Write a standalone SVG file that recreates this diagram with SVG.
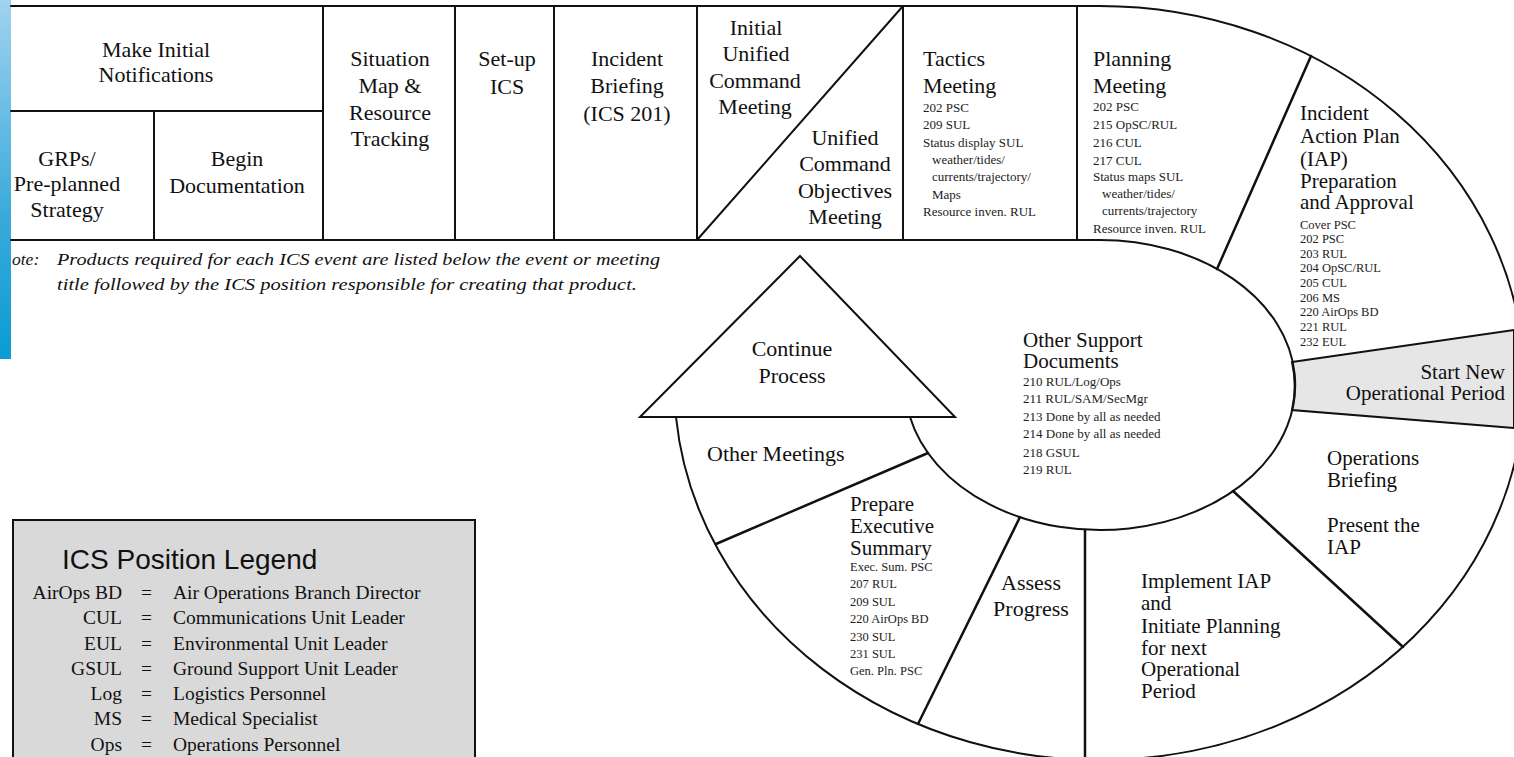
<svg xmlns="http://www.w3.org/2000/svg" width="1514" height="757" viewBox="0 0 1514 757">
<defs>
<linearGradient id="blue" x1="0" y1="0" x2="0" y2="1">
<stop offset="0" stop-color="#9fd3ee"/>
<stop offset="0.6" stop-color="#3aaadb"/>
<stop offset="1" stop-color="#0a9cd3"/>
</linearGradient>
<style>
.ln{fill:none;stroke:#111;stroke-width:2;stroke-linecap:round}
.rd{fill:none;stroke:#111;stroke-width:2.5;stroke-linecap:round}
text{font-family:"Liberation Serif","DejaVu Serif","Times New Roman",serif;fill:#111}
.h{font-size:22px}
.hc{font-size:22px;text-anchor:middle}
.ht{font-size:21px}
.s{font-size:13px;fill:#222}
.s2{font-size:12.5px;fill:#222}
.note{font-size:17.5px;font-style:italic}
.lg{font-size:19.5px}
.lgr{font-size:19.5px;text-anchor:end}
.title{font-family:"Liberation Sans",Arial,sans-serif;font-size:28px}
</style>
</defs>
<rect width="1514" height="757" fill="#ffffff"/>
<rect x="0" y="0" width="11" height="359" fill="url(#blue)"/>

<g id="frame">
<path class="ln" d="M11,6 H1099"/>
<path class="ln" d="M11,240 H1100"/>
<path class="ln" d="M11,111 H323"/>
<path class="ln" d="M154,111 V240"/>
<path class="ln" d="M323,6 V240 M455,6 V240 M554,6 V240 M697,6 V240 M903,6 V240 M1077,6 V240"/>
<path class="ln" d="M697,240 L903,6"/>
<path d="M1292,362 L1514,330 L1514,428 L1292,410 A195,145 0 0 0 1292,362 Z" fill="#e6e6e6" stroke="#111" stroke-width="2"/>
<path class="ln" d="M1099,6 A425,377 0 1 1 676,417"/>
<path class="ln" d="M1100,240 A195,145 0 1 1 910,417"/>
</g>

<g id="connectors">
<path class="rd" d="M1217,269 L1311,56"/>
<path class="rd" d="M1233,491 L1403,647"/>
<path class="rd" d="M1085,530 L1085,757"/>
<path class="rd" d="M1020,517 L918,724"/>
<path class="rd" d="M928,453 L716,544"/>
</g>

<g id="continue-process">
<polygon points="640,417 800,256 955,417" fill="#ffffff" stroke="#111" stroke-width="2"/>
<text class="hc" x="792" y="356">Continue</text>
<text class="hc" x="792" y="383">Process</text>
</g>

<g id="make-initial-notifications">
<text class="hc" x="156" y="57">Make Initial</text>
<text class="hc" x="156" y="82">Notifications</text>
</g>
<g id="grps">
<text class="hc" x="67" y="166">GRPs/</text>
<text class="hc" x="67" y="191">Pre-planned</text>
<text class="hc" x="67" y="217">Strategy</text>
</g>
<g id="begin-documentation">
<text class="hc" x="237" y="166">Begin</text>
<text class="hc" x="237" y="193">Documentation</text>
</g>
<g id="situation-map">
<text class="hc" x="390" y="66">Situation</text>
<text class="hc" x="390" y="93">Map &amp;</text>
<text class="hc" x="390" y="120">Resource</text>
<text class="hc" x="390" y="146">Tracking</text>
</g>
<g id="setup-ics">
<text class="hc" x="507" y="66">Set-up</text>
<text class="hc" x="507" y="94">ICS</text>
</g>
<g id="incident-briefing">
<text class="hc" x="627" y="66">Incident</text>
<text class="hc" x="627" y="93">Briefing</text>
<text class="hc" x="627" y="121">(ICS 201)</text>
</g>
<g id="initial-unified-command">
<text class="hc" x="756" y="35">Initial</text>
<text class="hc" x="756" y="61">Unified</text>
<text class="hc" x="755" y="88">Command</text>
<text class="hc" x="755" y="114">Meeting</text>
</g>
<g id="unified-command-objectives">
<text class="hc" x="845" y="145">Unified</text>
<text class="hc" x="845" y="171">Command</text>
<text class="hc" x="845" y="198">Objectives</text>
<text class="hc" x="845" y="224">Meeting</text>
</g>
<g id="tactics-meeting">
<text class="h" x="923" y="66">Tactics</text>
<text class="h" x="923" y="93">Meeting</text>
<text class="s" x="923" y="112">202 PSC</text>
<text class="s" x="923" y="129">209 SUL</text>
<text class="s" x="923" y="147">Status display SUL</text>
<text class="s" x="932" y="164">weather/tides/</text>
<text class="s" x="932" y="181">currents/trajectory/</text>
<text class="s" x="932" y="199">Maps</text>
<text class="s" x="923" y="216">Resource inven. RUL</text>
</g>
<g id="planning-meeting">
<text class="h" x="1093" y="66">Planning</text>
<text class="h" x="1093" y="93">Meeting</text>
<text class="s" x="1093" y="111">202 PSC</text>
<text class="s" x="1093" y="129">215 OpSC/RUL</text>
<text class="s" x="1093" y="147">216 CUL</text>
<text class="s" x="1093" y="165">217 CUL</text>
<text class="s" x="1093" y="181">Status maps SUL</text>
<text class="s" x="1102" y="198">weather/tides/</text>
<text class="s" x="1102" y="215">currents/trajectory</text>
<text class="s" x="1093" y="233">Resource inven. RUL</text>
</g>
<g id="iap-preparation">
<text class="ht" x="1300" y="120">Incident</text>
<text class="ht" x="1300" y="143">Action Plan</text>
<text class="ht" x="1300" y="166">(IAP)</text>
<text class="ht" x="1300" y="188">Preparation</text>
<text class="ht" x="1300" y="209">and Approval</text>
<text class="s2" x="1300" y="229">Cover PSC</text>
<text class="s2" x="1300" y="243">202 PSC</text>
<text class="s2" x="1300" y="258">203 RUL</text>
<text class="s2" x="1300" y="272">204 OpSC/RUL</text>
<text class="s2" x="1300" y="287">205 CUL</text>
<text class="s2" x="1300" y="302">206 MS</text>
<text class="s2" x="1300" y="316">220 AirOps BD</text>
<text class="s2" x="1300" y="331">221 RUL</text>
<text class="s2" x="1300" y="346">232 EUL</text>
</g>
<g id="start-new-period">
<text class="ht" x="1505" y="379" text-anchor="end">Start New</text>
<text class="ht" x="1505" y="400" text-anchor="end">Operational Period</text>
</g>
<g id="other-support-documents">
<text class="ht" x="1023" y="347">Other Support</text>
<text class="ht" x="1023" y="368">Documents</text>
<text class="s" x="1023" y="386">210 RUL/Log/Ops</text>
<text class="s" x="1023" y="403">211 RUL/SAM/SecMgr</text>
<text class="s" x="1023" y="421">213 Done by all as needed</text>
<text class="s" x="1023" y="438">214 Done by all as needed</text>
<text class="s" x="1023" y="457">218 GSUL</text>
<text class="s" x="1023" y="474">219 RUL</text>
</g>
<g id="operations-briefing">
<text class="ht" x="1327" y="465">Operations</text>
<text class="ht" x="1327" y="487">Briefing</text>
<text class="ht" x="1327" y="532">Present the</text>
<text class="ht" x="1327" y="554">IAP</text>
</g>
<g id="implement-iap">
<text class="ht" x="1141" y="588">Implement IAP</text>
<text class="ht" x="1141" y="610">and</text>
<text class="ht" x="1141" y="633">Initiate Planning</text>
<text class="ht" x="1141" y="655">for next</text>
<text class="ht" x="1141" y="676">Operational</text>
<text class="ht" x="1141" y="698">Period</text>
</g>
<g id="assess-progress">
<text class="hc" x="1031" y="590">Assess</text>
<text class="hc" x="1031" y="616">Progress</text>
</g>
<g id="prepare-executive-summary">
<text class="ht" x="850" y="511">Prepare</text>
<text class="ht" x="850" y="533">Executive</text>
<text class="ht" x="850" y="555">Summary</text>
<text class="s2" x="850" y="571">Exec. Sum. PSC</text>
<text class="s2" x="850" y="588">207 RUL</text>
<text class="s2" x="850" y="606">209 SUL</text>
<text class="s2" x="850" y="623">220 AirOps BD</text>
<text class="s2" x="850" y="641">230 SUL</text>
<text class="s2" x="850" y="658">231 SUL</text>
<text class="s2" x="850" y="675">Gen. Pln. PSC</text>
</g>
<g id="other-meetings">
<text class="h" x="707" y="461">Other Meetings</text>
</g>

<g id="note">
<text class="note" x="12" y="265">ote:</text>
<text class="note" x="57" y="265" textLength="603" lengthAdjust="spacingAndGlyphs">Products required for each ICS event are listed below the event or meeting</text>
<text class="note" x="57" y="290" textLength="580" lengthAdjust="spacingAndGlyphs">title followed by the ICS position responsible for creating that product.</text>
</g>

<g id="legend">
<rect x="13" y="520" width="462" height="260" fill="#d9d9d9" stroke="#111" stroke-width="2"/>
<text class="title" x="62" y="569">ICS Position Legend</text>
<text class="lgr" x="122" y="599">AirOps BD</text><text class="lg" x="141" y="599">=</text><text class="lg" x="173" y="599">Air Operations Branch Director</text>
<text class="lgr" x="122" y="624">CUL</text><text class="lg" x="141" y="624">=</text><text class="lg" x="173" y="624">Communications Unit Leader</text>
<text class="lgr" x="122" y="650">EUL</text><text class="lg" x="141" y="650">=</text><text class="lg" x="173" y="650">Environmental Unit Leader</text>
<text class="lgr" x="122" y="675">GSUL</text><text class="lg" x="141" y="675">=</text><text class="lg" x="173" y="675">Ground Support Unit Leader</text>
<text class="lgr" x="122" y="700">Log</text><text class="lg" x="141" y="700">=</text><text class="lg" x="173" y="700">Logistics Personnel</text>
<text class="lgr" x="122" y="725">MS</text><text class="lg" x="141" y="725">=</text><text class="lg" x="173" y="725">Medical Specialist</text>
<text class="lgr" x="122" y="751">Ops</text><text class="lg" x="141" y="751">=</text><text class="lg" x="173" y="751">Operations Personnel</text>
</g>
</svg>
